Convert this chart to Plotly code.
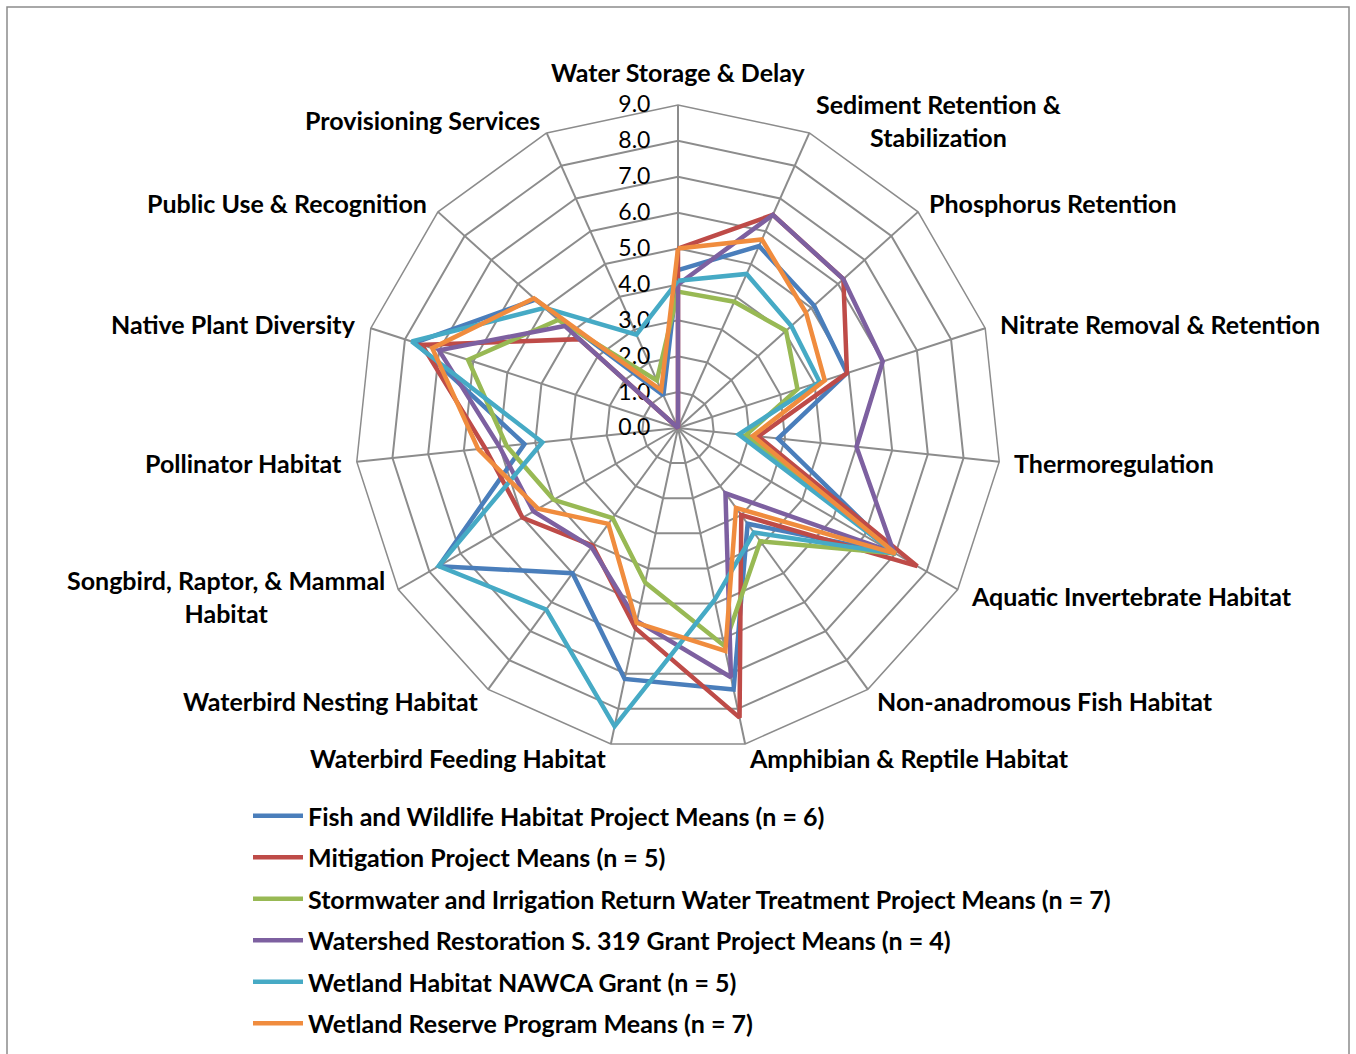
import math
import plotly.graph_objects as go

# Wetland function categories, clockwise from the top
categories = [
    "Water Storage & Delay",
    "Sediment Retention &<br>Stabilization",
    "Phosphorus Retention",
    "Nitrate Removal & Retention",
    "Thermoregulation",
    "Aquatic Invertebrate Habitat",
    "Non-anadromous Fish Habitat",
    "Amphibian & Reptile Habitat",
    "Waterbird Feeding Habitat",
    "Waterbird Nesting Habitat",
    "Songbird, Raptor, & Mammal<br>Habitat",
    "Pollinator Habitat",
    "Native Plant Diversity",
    "Public Use & Recognition",
    "Provisioning Services",
]

# Mean function scores per project type
fish_wildlife = [4.4, 5.55, 5.1, 4.95, 2.8, 7.0, 3.3, 7.45, 7.15, 5.0, 7.7, 4.3, 7.7, 5.35, 1.0]
mitigation = [5.0, 6.5, 6.2, 4.95, 2.25, 7.7, 3.0, 8.25, 5.7, 4.05, 5.0, 5.4, 7.5, 3.7, 0.0]
stormwater = [3.8, 3.85, 4.05, 3.5, 1.9, 7.0, 3.9, 6.2, 4.4, 3.1, 4.0, 4.8, 6.15, 4.5, 1.45]
watershed = [4.0, 6.5, 6.2, 6.0, 5.0, 6.95, 2.25, 7.1, 5.5, 4.1, 4.65, 5.0, 7.0, 4.25, 0.0]
nawca = [4.1, 4.7, 4.25, 4.15, 1.7, 7.0, 3.6, 4.9, 8.5, 6.25, 7.7, 3.8, 7.8, 5.0, 2.85]
wrp = [5.0, 5.75, 4.8, 4.3, 2.1, 7.0, 2.75, 6.35, 5.55, 3.3, 4.5, 5.6, 7.2, 5.4, 1.15]

series_names = [
    "Fish and Wildlife Habitat Project Means (n = 6)",
    "Mitigation Project Means (n = 5)",
    "Stormwater and Irrigation Return Water Treatment Project Means (n = 7)",
    "Watershed Restoration S. 319 Grant Project Means (n = 4)",
    "Wetland Habitat NAWCA Grant (n = 5)",
    "Wetland Reserve Program Means (n = 7)",
]
series_values = [fish_wildlife, mitigation, stormwater, watershed, nawca, wrp]
series_colors = ["#4A7EBB", "#BE4B48", "#98B954", "#7D60A0", "#46AAC5", "#F08C3E"]

radial_ticks = [0, 1, 2, 3, 4, 5, 6, 7, 8, 9]

W, H = 1356, 1054
cx, cy, R = 678, 428, 323   # polar centre and outer radius in pixels
LABEL_GAP = 14

fig = go.Figure()
for i, (name, vals, col) in enumerate(zip(series_names, series_values, series_colors)):
    fig.add_trace(go.Scatterpolar(
        r=vals + vals[:1],
        theta=categories + categories[:1],
        mode="lines",
        name=name,
        legendgroup=f"g{i}",
        line=dict(color=col, width=4.5),
    ))

# Category labels placed just outside each spoke, anchored on the side facing the chart
label_font = dict(family="Lato", size=25, weight="bold", color="black")
annotations = []
n = len(categories)
for k, cat in enumerate(categories):
    ang = 2 * math.pi * k / n
    s, c = math.sin(ang), math.cos(ang)
    gap = LABEL_GAP + (3 if abs(s) < 0.05 else 0)
    px = cx + (R + gap) * s
    py = cy - (R + gap) * c
    if abs(s) < 0.05:
        xa, ya = "center", ("bottom" if c > 0 else "top")
    else:
        xa, ya = ("left" if s > 0 else "right"), "middle"
    annotations.append(dict(
        x=px / W, y=1 - py / H, xref="paper", yref="paper",
        text=cat, showarrow=False, xanchor=xa, yanchor=ya,
        align="center", font=label_font, borderpad=0,
    ))

grid = "#8C8C8C"
fig.update_layout(
    width=W, height=H,
    margin=dict(l=0, r=0, t=0, b=0),
    paper_bgcolor="white",
    plot_bgcolor="white",
    font=dict(family="Lato", color="black"),
    polar=dict(
        domain=dict(x=[(cx - R) / W, (cx + R) / W], y=[1 - (cy + R) / H, 1 - (cy - R) / H]),
        gridshape="linear",
        bgcolor="white",
        radialaxis=dict(
            range=[0, 9],
            tickvals=radial_ticks,
            ticktext=[f"{v:.1f}" for v in radial_ticks],
            angle=90,
            tickangle=90,
            side="counterclockwise",
            showline=False,
            ticks="outside",
            ticklen=19,
            tickcolor="rgba(0,0,0,0)",
            gridcolor=grid,
            gridwidth=1.5,
            tickfont=dict(family="Lato", size=23, color="black"),
            layer="below traces",
        ),
        angularaxis=dict(
            direction="clockwise",
            rotation=90,
            showline=True,
            linecolor=grid,
            linewidth=1.5,
            gridcolor=grid,
            gridwidth=1.5,
            ticks="",
            showticklabels=False,
            layer="below traces",
        ),
    ),
    legend=dict(
        x=248 / W, y=1 - 793 / H,
        xanchor="left", yanchor="top",
        font=dict(family="Lato", size=25, weight="bold", color="black"),
        tracegroupgap=6,
        itemwidth=50,
        bgcolor="rgba(0,0,0,0)",
    ),
    annotations=annotations,
    shapes=[dict(
        type="rect", xref="paper", yref="paper",
        x0=7 / W, x1=1349 / W, y0=-0.01, y1=1 - 7 / H,
        line=dict(color="#8C8C8C", width=1.5),
    )],
)

fig.write_html("out.html")
